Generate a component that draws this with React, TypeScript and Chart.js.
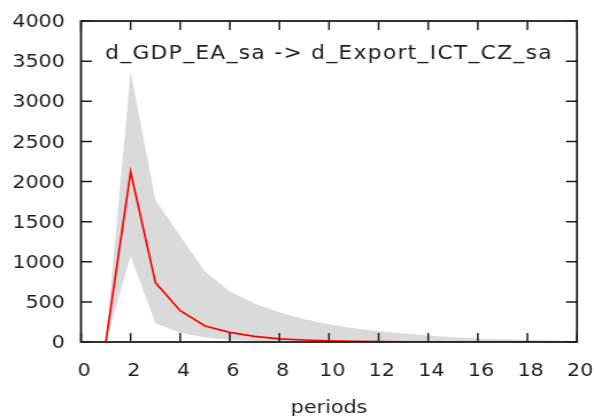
import React, { useEffect, useRef } from "react";
import { Chart, registerables } from "chart.js";

Chart.register(...registerables);

// ---- data ----
const periods = [1, 2, 3, 4, 5, 6, 7, 8, 9, 10, 11, 12, 13, 14, 15, 16, 17, 18, 19, 20];
const response = [0, 2120, 740, 390, 200, 120, 70, 40, 25, 15, 9, 5, 3, 2, 1, 0.6, 0.4, 0.2, 0.1, 0.1];
const upperBand = [0, 3370, 1770, 1320, 880, 630, 480, 370, 285, 220, 170, 135, 105, 80, 60, 45, 35, 25, 18, 12];
const lowerBand = [0, 1070, 235, 115, 55, 25, 12, 6, 3, 2, 1, 0.5, 0.3, 0.2, 0.1, 0, 0, 0, 0, 0];
const xTicks = [0, 2, 4, 6, 8, 10, 12, 14, 16, 18, 20];
const yTicks = [0, 500, 1000, 1500, 2000, 2500, 3000, 3500, 4000];
const chartTitle = "d_GDP_EA_sa -> d_Export_ICT_CZ_sa";
const xAxisTitle = "periods";

const CSS_W = 594;
const CSS_H = 416;
const INNER_W = 517;
const STRETCH = CSS_W / INNER_W;
const FONT = '"DejaVu Sans", Verdana, sans-serif';
const TEXT = "#1e1e1e";

const framePlugin = {
  id: "gnuFrame",
  afterDatasetsDraw(chart: any) {
    const { ctx, chartArea: a, scales } = chart;
    const xs = scales.x;
    const ys = scales.y;
    ctx.save();
    ctx.strokeStyle = "#1e1e1e";
    ctx.lineWidth = 1.5;
    ctx.beginPath();
    for (const v of xTicks) {
      const px = xs.getPixelForValue(v);
      ctx.moveTo(px, a.bottom);
      ctx.lineTo(px, a.bottom - 9);
      ctx.moveTo(px, a.top);
      ctx.lineTo(px, a.top + 9);
    }
    for (const v of yTicks) {
      const py = ys.getPixelForValue(v);
      ctx.moveTo(a.left, py);
      ctx.lineTo(a.left + 9.5, py);
      ctx.moveTo(a.right, py);
      ctx.lineTo(a.right - 9.5, py);
    }
    ctx.stroke();
    ctx.lineWidth = 1.8;
    ctx.strokeRect(a.left, a.top, a.right - a.left, a.bottom - a.top);
    ctx.font = `19px ${FONT}`;
    (ctx as any).letterSpacing = "1.1px";
    ctx.fillStyle = TEXT;
    ctx.textAlign = "center";
    ctx.textBaseline = "alphabetic";
    ctx.fillText(chartTitle, (a.left + a.right) / 2, 58.5);
    ctx.restore();
  },
};

export default function App() {
  const ref = useRef<HTMLCanvasElement>(null);

  useEffect(() => {
    if (!ref.current) return;
    const toPts = (ys: number[]) => periods.map((p, i) => ({ x: p, y: ys[i] }));
    const chart = new Chart(ref.current, {
      type: "line",
      data: {
        datasets: [
          {
            label: "lower",
            data: toPts(lowerBand),
            borderWidth: 0,
            pointRadius: 0,
            fill: false,
            borderColor: "rgba(0,0,0,0)",
            order: 2,
          },
          {
            label: "upper",
            data: toPts(upperBand),
            borderWidth: 0,
            pointRadius: 0,
            fill: "-1",
            backgroundColor: "#dadada",
            borderColor: "rgba(0,0,0,0)",
            order: 1,
          },
          {
            label: "response",
            data: toPts(response),
            borderWidth: 1.7,
            borderColor: "#ff0000",
            pointRadius: 0,
            fill: false,
            order: 0,
          },
        ],
      },
      options: {
        animation: false,
        responsive: false,
        devicePixelRatio: 1,
        layout: { padding: { top: 21, right: 14.8, bottom: 0, left: 0 } },
        plugins: {
          legend: { display: false },
          tooltip: { enabled: false },
          title: { display: false },
        },
        scales: {
          x: {
            type: "linear",
            min: 0,
            max: 20,
            grid: { display: false, drawTicks: false },
            border: { display: false },
            afterBuildTicks: (s: any) => {
              s.ticks = xTicks.map((v) => ({ value: v }));
            },
            ticks: {
              autoSkip: false,
              maxRotation: 0,
              padding: 19,
              labelOffset: 2.8,
              color: TEXT,
              font: { family: FONT, size: 18 },
              callback: (v: any) => String(v),
            },
            title: {
              display: true,
              text: xAxisTitle,
              color: TEXT,
              font: { family: FONT, size: 18 },
              padding: { top: 0, bottom: -3 },
            },
            afterFit: (s: any) => {
              s.height = 74;
              s.paddingLeft = 0;
              s.paddingRight = 0;
            },
          },
          y: {
            type: "linear",
            min: 0,
            max: 4000,
            grid: { display: false, drawTicks: false },
            border: { display: false },
            afterBuildTicks: (s: any) => {
              s.ticks = yTicks.map((v) => ({ value: v }));
            },
            ticks: {
              padding: 14,
              labelOffset: 1.5,
              color: TEXT,
              font: { family: FONT, size: 18 },
              callback: (v: any) => String(v),
            },
            afterFit: (s: any) => {
              s.width = 70.5;
              s.paddingTop = 0;
              s.paddingBottom = 0;
            },
          },
        },
      },
      plugins: [framePlugin],
    });
    return () => chart.destroy();
  }, []);

  return (
    <div
      style={{
        position: "fixed",
        left: 0,
        top: 0,
        width: CSS_W,
        height: CSS_H,
        overflow: "hidden",
        background: "#fff",
      }}
    >
      <canvas
        ref={ref}
        width={INNER_W}
        height={CSS_H}
        style={{ transform: `scaleX(${STRETCH})`, transformOrigin: "0 0" }}
      />
    </div>
  );
}
